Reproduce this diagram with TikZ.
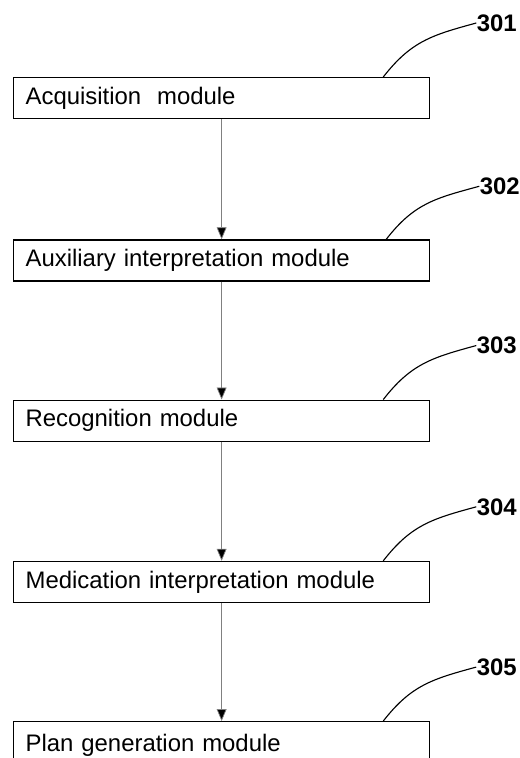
\documentclass[tikz,border=0pt]{standalone}
\usepackage{fontspec}
\setmainfont{Liberation Sans}
\usepackage{tikz}
\usetikzlibrary{arrows.meta,positioning,calc}

\tikzset{
  modbox/.style={draw=black,line width=0.9pt,minimum width=10.4cm,minimum height=1.025cm,
    inner xsep=0.3cm,inner ysep=0pt,text width=9.8cm,align=left,font=\fontsize{17}{20}\selectfont},
  flow/.style={draw=gray,line width=0.5pt,-{Triangle[length=8.5pt,width=7pt,fill=black]}},
  leader/.style={draw=black,line width=0.8pt},
  refnum/.style={anchor=west,inner sep=0pt,font=\fontsize{17}{20}\selectfont\bfseries}
}

\begin{document}
\begin{tikzpicture}
\useasboundingbox (0,0) rectangle (13,-18.95);
\clip (0,0) rectangle (13,-18.95);
% module boxes
\node[modbox,anchor=north west] (acq) at (0.325,-1.925) {Acquisition\ \ module};
\node[modbox,below=3cm of acq] (aux) {Auxiliary interpretation module};
\node[modbox,below=2.95cm of aux] (rec) {Recognition module};
\node[modbox,below=2.975cm of rec] (med) {Medication interpretation module};
\node[modbox,below=2.95cm of med,minimum height=1.2cm] (plan) {Plan generation module\\[0.2cm]};
% arrows between modules
\draw[flow] (acq.south) -- (aux.north);
\draw[flow] (aux.south) -- (rec.north);
\draw[flow] (rec.south) -- (med.north);
\draw[flow] (med.south) -- (plan.north);
% reference numbers
\coordinate (c1) at ($(acq.north east)+(-1.175,0)$);
\coordinate (c2) at ($(aux.north east)+(-1.1,0)$);
\coordinate (c3) at ($(rec.north east)+(-1.175,0)$);
\coordinate (c4) at ($(med.north east)+(-1.175,0)$);
\coordinate (c5) at ($(plan.north east)+(-1.175,0)$);
\draw[leader] (c1) .. controls +(0.7,0.9) and +(-1.1,-0.3) .. ++(2.325,1.35) node[refnum] (r1) {301};
\draw[leader] (c2) .. controls +(0.7,0.9) and +(-1.1,-0.3) .. ++(2.325,1.325) node[refnum] (r2) {302};
\draw[leader] (c3) .. controls +(0.7,0.9) and +(-1.1,-0.3) .. ++(2.325,1.35) node[refnum] (r3) {303};
\draw[leader] (c4) .. controls +(0.7,0.9) and +(-1.1,-0.3) .. ++(2.325,1.35) node[refnum] (r4) {304};
\draw[leader] (c5) .. controls +(0.7,0.9) and +(-1.1,-0.3) .. ++(2.325,1.35) node[refnum] (r5) {305};
\end{tikzpicture}
\end{document}
